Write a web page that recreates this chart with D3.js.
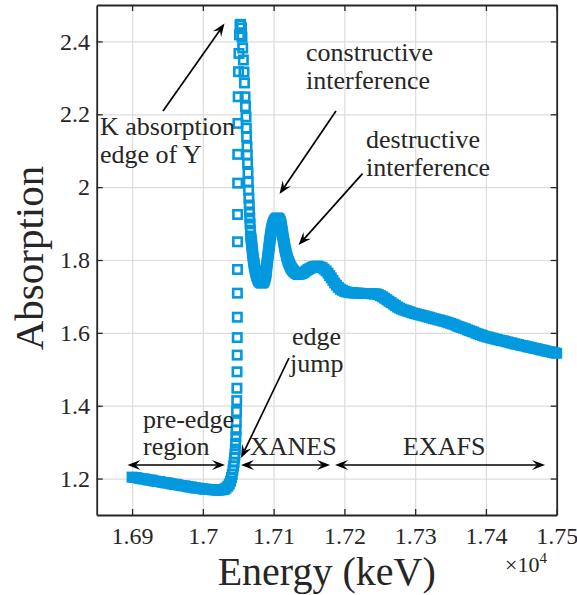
<!DOCTYPE html>
<html>
<head>
<meta charset="utf-8">
<script src="https://cdn.jsdelivr.net/npm/d3@7"></script>
<style>
  body { margin: 0; background: #fff; }
  svg { display: block; }
  svg text { font-family: "Liberation Serif", "DejaVu Serif", serif; }
</style>
</head>
<body>
<svg id="chart" width="577" height="595"></svg>
<script>
// Y K-edge absorption spectrum: [energy (eV), absorption]
const preEdge = [
  [16900,1.204],[16903,1.203],[16906,1.203],[16909,1.201],[16912,1.200],[16915,1.199],
  [16918,1.199],[16921,1.197],[16924,1.196],[16927,1.196],[16930,1.194],[16933,1.193],
  [16936,1.192],[16939,1.192],[16942,1.190],[16945,1.189],[16948,1.188],[16951,1.188],
  [16954,1.186],[16957,1.185],[16960,1.184],[16963,1.184],[16966,1.182],[16969,1.181],
  [16972,1.180],[16975,1.180],[16978,1.178],[16981,1.177],[16984,1.177],[16987,1.175],
  [16990,1.174],[16993,1.174],[16996,1.173],[16999,1.172],[17002,1.171],[17005,1.171],
  [17008,1.170],[17011,1.170],[17014,1.169],[17017,1.169],[17020,1.168],[17023,1.168],
  [17026,1.169]
];
const edge = [
  [17028.5,1.170],[17030.5,1.171],[17032.7,1.174],[17035.3,1.179],[17037.4,1.185],
  [17039.1,1.193],[17040.5,1.203],[17041.6,1.212],[17042.6,1.224],[17043.5,1.235],
  [17044.2,1.245],[17044.9,1.257],[17045.4,1.267],[17045.9,1.281],
  [17046.3,1.297],[17046.7,1.315],[17047.0,1.333],[17047.3,1.356],[17047.6,1.384],
  [17047.9,1.414],[17048.1,1.448],[17048.3,1.493],[17048.5,1.539],[17048.6,1.587],
  [17048.7,1.643],[17048.8,1.709],[17048.9,1.774],[17049.0,1.850],[17049.1,1.925],
  [17049.2,2.011],[17049.3,2.090],[17049.5,2.175],[17049.9,2.248],[17050.4,2.317],
  [17051.0,2.367],[17051.7,2.418],[17052.5,2.445],[17053.4,2.447],
  [17054.6,2.437],[17055.3,2.412],[17056.3,2.382],[17057.2,2.349],[17058.1,2.316],
  [17058.8,2.286],[17059.6,2.248],[17060.3,2.221],[17061.0,2.193],[17061.4,2.162],
  [17061.8,2.138],[17062.4,2.111],[17062.8,2.088],[17063.2,2.066],[17063.8,2.039],
  [17064.2,2.014],[17064.6,1.992],[17065.1,1.970],[17065.5,1.951],[17065.9,1.932],
  [17066.3,1.915],[17066.8,1.899],[17067.2,1.882],[17067.6,1.866]
];
const xanes = [
  [17068.1,1.859],[17068.6,1.852],[17069.0,1.845],[17069.3,1.838],[17069.7,1.831],
  [17070.0,1.825],[17070.4,1.818],[17070.7,1.811],[17071.2,1.805],[17071.6,1.800],
  [17072.0,1.794],[17072.4,1.789],[17072.9,1.783],[17073.4,1.778],[17074.0,1.772],
  [17074.7,1.767],[17075.4,1.762],[17076.1,1.757],[17076.8,1.753],[17077.6,1.749],
  [17078.4,1.745],[17079.3,1.742],[17080.4,1.740],[17081.5,1.738],[17082.5,1.737],
  [17083.6,1.737],[17084.7,1.738],[17085.7,1.740],[17086.5,1.743],[17087.2,1.746],
  [17087.8,1.750],[17088.4,1.755],[17088.9,1.759],[17089.3,1.764],[17089.6,1.770],
  [17089.9,1.775],[17090.2,1.781],[17090.5,1.786],[17090.8,1.792],[17091.2,1.797],
  [17091.5,1.803],[17091.8,1.808],[17092.2,1.814],[17092.5,1.819],[17092.9,1.825],
  [17093.2,1.830],[17093.6,1.836],[17093.9,1.841],[17094.3,1.847],[17094.6,1.852],
  [17095.0,1.858],[17095.4,1.863],[17095.8,1.869],[17096.2,1.874],[17096.7,1.880],
  [17097.2,1.885],[17097.8,1.890],[17098.5,1.895],[17099.2,1.899],[17100.0,1.903],
  [17100.9,1.907],[17101.8,1.910],[17102.8,1.912],[17103.8,1.914],[17104.8,1.915],
  [17105.8,1.915],[17106.6,1.914],[17107.3,1.913],[17108.0,1.911],[17108.7,1.908],
  [17109.4,1.905],[17110.0,1.902],[17110.5,1.897],[17111.0,1.892],[17111.4,1.887],
  [17111.8,1.882],[17112.2,1.877],[17112.7,1.871],[17113.1,1.866],[17113.5,1.860],
  [17114.0,1.855],[17114.5,1.849],[17115.0,1.844],[17115.5,1.838],[17116.0,1.833],
  [17116.6,1.827],[17117.2,1.822],[17117.9,1.816],[17118.6,1.810],[17119.3,1.805],
  [17120.1,1.800],[17120.9,1.796],[17121.7,1.792],[17122.6,1.788],[17123.6,1.783],
  [17124.6,1.779],[17125.6,1.776],[17126.7,1.773],[17127.9,1.770],[17129.1,1.767],
  [17131.6,1.763],[17134.4,1.760],[17137.3,1.761],[17140.1,1.763],[17142.9,1.766],
  [17145.8,1.770],[17148.6,1.774],[17151.4,1.777],[17154.3,1.780],[17157.1,1.782],
  [17159.9,1.783],[17162.8,1.783],[17165.6,1.781],[17168.4,1.779],[17171.2,1.775],
  [17174.1,1.770],[17176.9,1.764],[17179.2,1.757],[17181.5,1.751],[17183.8,1.744],
  [17186.2,1.737],[17188.7,1.731],[17191.4,1.725],[17194.2,1.720],[17197.2,1.717],
  [17200.3,1.714],[17203.4,1.712],[17206.5,1.711]
];
const exafs = [
  [17209.5,1.710],[17212.5,1.710],[17215.5,1.709],[17218.5,1.709],[17221.5,1.709],
  [17224.5,1.708],[17227.5,1.708],[17230.5,1.708],[17233.5,1.708],[17236.5,1.708],
  [17239.5,1.707],[17242.5,1.707],
  [17245,1.707],[17248,1.705],[17251,1.702],[17254,1.699],[17257,1.695],[17260,1.691],
  [17263,1.687],[17266,1.683],[17269,1.679],[17272,1.675],[17275,1.671],[17278,1.668],
  [17281,1.665],[17284,1.663],[17287,1.661],[17290,1.659],[17293,1.657],[17296,1.655],
  [17299,1.653],[17302,1.652],[17305,1.650],[17308,1.649],[17311,1.647],[17314,1.646],
  [17317,1.644],[17320,1.643],[17323,1.641],[17326,1.639],[17329,1.638],[17332,1.636],
  [17335,1.635],[17338,1.633],[17341,1.632],[17344,1.630],[17347,1.628],[17350,1.626],
  [17353,1.624],[17356,1.622],[17359,1.619],[17362,1.617],[17365,1.615],[17368,1.613],
  [17371,1.611],[17374,1.608],[17377,1.606],[17380,1.604],[17383,1.602],[17386,1.599],
  [17389,1.597],[17392,1.595],[17395,1.593],[17398,1.591],[17401,1.589],[17404,1.588],
  [17407,1.586],[17410,1.585],[17413,1.583],[17416,1.582],[17419,1.580],[17422,1.579],
  [17425,1.578],[17428,1.576],[17431,1.575],[17434,1.573],[17437,1.572],[17440,1.570],
  [17443,1.569],[17446,1.568],[17449,1.566],[17452,1.565],[17455,1.564],[17458,1.562],
  [17461,1.561],[17464,1.560],[17467,1.558],[17470,1.557],[17473,1.556],[17476,1.554],
  [17479,1.553],[17482,1.552],[17485,1.550],[17488,1.549],[17491,1.548],[17494,1.546],
  [17497,1.545],[17500,1.544]
];

const xTickValues = [16900, 17000, 17100, 17200, 17300, 17400, 17500];
const xTickLabels = ["1.69", "1.7", "1.71", "1.72", "1.73", "1.74", "1.75"];
const yTickValues = [1.2, 1.4, 1.6, 1.8, 2.0, 2.2, 2.4];
const yTickLabels = ["1.2", "1.4", "1.6", "1.8", "2", "2.2", "2.4"];

// Annotation arrows in data units: [fromE, fromA, toE, toA]
const pointerArrows = [
  [16943.7, 2.209, 17030.6, 2.449],   // K absorption edge
  [17188.1, 2.209, 17108.3, 1.981],   // constructive interference
  [17225.6, 2.037, 17135.2, 1.841],   // destructive interference
  [17121.7, 1.531, 17053.9, 1.2565]   // edge jump
];
// Region spans (double-headed): [startE, endE, A]
const regionSpans = [
  [16893.5, 17031.3, 1.2373],
  [17053.9, 17179.7, 1.2373],
  [17186.8, 17483.5, 1.2373]
];

const margin = { left: 96.7, top: 5 };
const pw = 460, ph = 510;
const ink = "#262626";
const blue = "#0399df";

const svg = d3.select("#chart");
const g = svg.append("g").attr("transform", `translate(${margin.left},${margin.top})`);

const x = d3.scaleLinear().domain([16850, 17500]).range([0, pw]);
const y = d3.scaleLinear().domain([1.1, 2.5]).range([ph, 0]);

// grid
g.append("g").attr("transform", `translate(0,${ph})`)
  .call(d3.axisBottom(x).tickValues(xTickValues).tickSize(-ph).tickFormat(""))
  .call(s => s.select(".domain").remove())
  .call(s => s.selectAll("line").attr("stroke", "#dcdcdc").attr("stroke-width", 1.2));
g.append("g")
  .call(d3.axisLeft(y).tickValues(yTickValues).tickSize(-pw).tickFormat(""))
  .call(s => s.select(".domain").remove())
  .call(s => s.selectAll("line").attr("stroke", "#dcdcdc").attr("stroke-width", 1.2));

// axes box with inward ticks
function styleAxis(s) {
  s.attr("font-family", null);
  s.select(".domain").attr("stroke", ink).attr("stroke-width", 1.8);
  s.selectAll(".tick line").attr("stroke", ink).attr("stroke-width", 1.3);
}
const xb = g.append("g").attr("transform", `translate(0,${ph})`)
  .call(d3.axisBottom(x).tickValues(xTickValues).tickSizeInner(-6).tickSizeOuter(0)
    .tickFormat((d, i) => xTickLabels[i]))
  .call(styleAxis);
xb.selectAll("text").attr("font-size", 24).attr("fill", ink)
  .attr("dy", "0.71em").attr("y", 12);
const yl = g.append("g")
  .call(d3.axisLeft(y).tickValues(yTickValues).tickSizeInner(-6).tickSizeOuter(0)
    .tickFormat((d, i) => yTickLabels[i]))
  .call(styleAxis);
yl.selectAll("text").attr("font-size", 24).attr("fill", ink).attr("x", -6.7);
g.append("g")
  .call(d3.axisTop(x).tickValues(xTickValues).tickSizeInner(-6).tickSizeOuter(0).tickFormat(""))
  .call(styleAxis);
g.append("g").attr("transform", `translate(${pw},0)`)
  .call(d3.axisRight(y).tickValues(yTickValues).tickSizeInner(-6).tickSizeOuter(0).tickFormat(""))
  .call(styleAxis);

// spectrum as open square markers
const spectrum = preEdge.concat(edge, xanes, exafs);
const side = 8.4;
g.append("g").selectAll("rect").data(spectrum).join("rect")
  .attr("x", d => x(d[0]) - side / 2)
  .attr("y", d => y(d[1]) - side / 2)
  .attr("width", side).attr("height", side)
  .attr("fill", "none").attr("stroke", blue).attr("stroke-width", 2.6);

// arrows
const headL = 13, headW = 5, notch = 0.62;
function head(sel, tx, ty, ang) {
  const c = Math.cos(ang), s = Math.sin(ang);
  const pt = (u, v) => [tx + u * c - v * s, ty + u * s + v * c];
  const p = [pt(0, 0), pt(-headL, headW), pt(-headL * notch, 0), pt(-headL, -headW)];
  sel.append("path").attr("d", "M" + p.map(q => q.join(",")).join("L") + "Z").attr("fill", "#000");
}
function arrow(x1, y1, x2, y2, both) {
  const a = Math.atan2(y2 - y1, x2 - x1);
  const inset = headL * notch;
  const sx = both ? x1 + inset * Math.cos(a) : x1, sy = both ? y1 + inset * Math.sin(a) : y1;
  g.append("line")
    .attr("x1", sx).attr("y1", sy)
    .attr("x2", x2 - inset * Math.cos(a)).attr("y2", y2 - inset * Math.sin(a))
    .attr("stroke", "#000").attr("stroke-width", 1.7);
  head(g, x2, y2, a);
  if (both) head(g, x1, y1, a + Math.PI);
}
pointerArrows.forEach(d => arrow(x(d[0]), y(d[1]), x(d[2]), y(d[3]), false));
regionSpans.forEach(d => arrow(x(d[0]), y(d[2]), x(d[1]), y(d[2]), true));

// annotation text
const notes = [
  ["K absorption", 100, 135], ["edge of Y", 100, 163],
  ["constructive", 306, 61], ["interference", 306, 89],
  ["destructive", 366, 148], ["interference", 366, 176],
  ["edge", 292, 345], ["jump", 290, 372],
  ["pre-edge", 143, 428], ["region", 143, 455],
  ["XANES", 250, 455], ["EXAFS", 403, 455]
];
svg.append("g").selectAll("text").data(notes).join("text")
  .attr("x", d => d[1]).attr("y", d => d[2])
  .attr("font-size", 26).attr("fill", ink)
  .text(d => d[0]);

// axis titles
svg.append("text").attr("x", margin.left + pw / 2).attr("y", 585)
  .attr("text-anchor", "middle").attr("font-size", 40).attr("fill", ink)
  .text("Energy (keV)");
svg.append("text").attr("transform", `translate(43,${margin.top + ph / 2 - 2}) rotate(-90)`)
  .attr("text-anchor", "middle").attr("font-size", 41).attr("fill", ink)
  .text("Absorption");

// exponent label
const ex = svg.append("text").attr("x", 505).attr("y", 572)
  .attr("font-size", 22).attr("fill", ink);
ex.append("tspan").text("×10");
ex.append("tspan").attr("dy", -9).attr("font-size", 15).text("4");
</script>
</body>
</html>
